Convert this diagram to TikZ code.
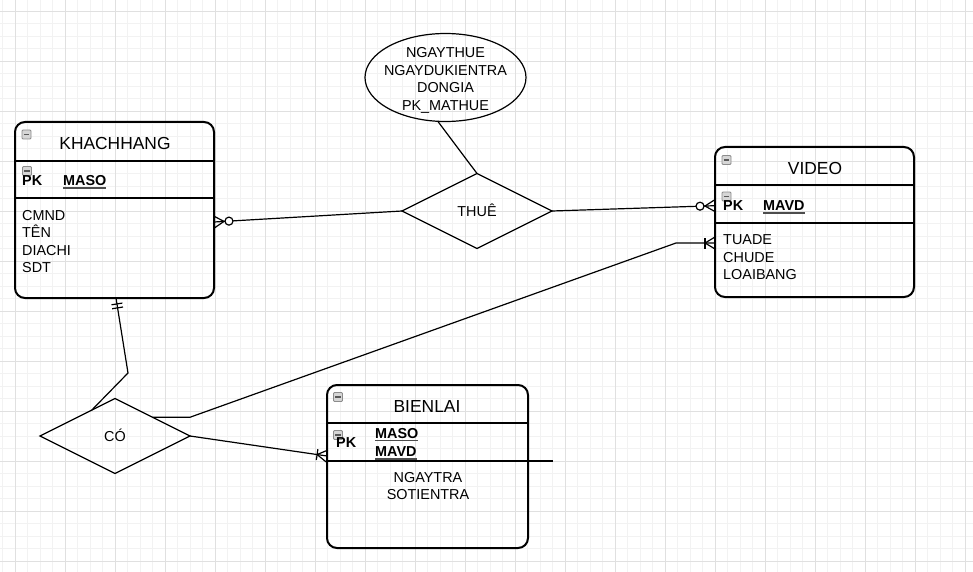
\documentclass[tikz,border=0pt]{standalone}
\usepackage{fontspec}
\setmainfont{Liberation Sans}
\usetikzlibrary{shapes.geometric,calc}
\definecolor{gridmajor}{RGB}{224,224,224}
\definecolor{gridminor}{RGB}{242,242,242}
\definecolor{iconfill}{RGB}{214,214,214}
\definecolor{iconline}{RGB}{140,140,140}
\newlength\ulw
\newcommand\keyul[1]{\settowidth\ulw{#1}\makebox[0pt][l]{\smash{\color{black!70}\rule[-2.8pt]{\ulw}{1.4pt}}}#1}
\newcommand\crowat[2]{%
  \coordinate (cw-t) at ($(#1)!10pt!(#2)$);
  \draw[conn] ($(#1)!6pt!90:(#2)$) -- (cw-t) -- ($(#1)!6pt!-90:(#2)$);}
\newcommand\barat[3]{%
  \coordinate (br-c) at ($(#1)!#3!(#2)$);
  \draw[conn] ($(br-c)!5.5pt!90:(#2)$) -- ($(br-c)!5.5pt!-90:(#2)$);}
\newcommand\ringat[2]{\draw[conn,fill=white] ($(#1)!15pt!(#2)$) circle (4pt);}
\newcommand\miniicon[1]{%
  \draw[iconline, fill=iconfill, line width=0.8pt, rounded corners=1pt] ($(#1)+(-4.5,-4.5)$) rectangle ++(9,9);
  \draw[black!65, line width=1.3pt] ($(#1)+(-2.6,0)$) -- ++(5.2,0);}
\tikzset{
  entity/.style={draw, line width=2pt, rounded corners=10pt, inner sep=0, outer sep=0},
  hdiv/.style={line width=1.8pt},
  pkdiv/.style={line width=1.2pt},
  conn/.style={line width=1.2pt, black},
  rel/.style={diamond, draw, line width=1.2pt, inner sep=0, outer sep=0, aspect=2,
    font=\fontsize{14.4}{17}\selectfont, text height=10.3pt, text depth=0pt},
  titlef/.style={font=\fontsize{17.4}{20}\selectfont, inner sep=0, text height=12.5pt, text depth=0pt},
  attr/.style={font=\fontsize{14.4}{17.5}\selectfont, inner sep=0, align=left},
  keyf/.style={font=\bfseries\fontsize{14.4}{18.4}\selectfont, inner sep=0, align=left},
}
\begin{document}
\begin{tikzpicture}[x=1pt,y=-1pt]
\useasboundingbox (0,0) rectangle (973,572);
\fill[white] (0,0) rectangle (973,572);
% grid
\foreach \i in {-1,...,76} \draw[gridminor, line width=0.8pt] ({15+12.5*\i},0) -- ({15+12.5*\i},572);
\foreach \j in {0,...,45} \draw[gridminor, line width=0.8pt] (0,{11+12.5*\j}) -- (973,{11+12.5*\j});
\foreach \i in {0,...,19} \draw[gridmajor, line width=0.9pt] ({15+50*\i},0) -- ({15+50*\i},572);
\foreach \j in {0,...,11} \draw[gridmajor, line width=0.9pt] (0,{11+50*\j}) -- (973,{11+50*\j});

% ===== KHACHHANG =====
\node[entity, minimum width=199, minimum height=176] (kh) at (114.5,210) {};
\draw[hdiv] (15,161) -- (214,161);
\draw[pkdiv] (15,198) -- (214,198);
\miniicon{26.5,134.5}
\miniicon{27,171}
\node[titlef] (kh-title) at (115,143) {KHACHHANG};
\node[keyf, anchor=west] (kh-pk) at (22,181) {PK};
\node[keyf, anchor=west] (kh-key) at (63,181) {\keyul{MASO}};
\node[attr, anchor=west] (kh-attr) at (22,241.5) {CMND\\TÊN\\DIACHI\\SDT};

% ===== VIDEO =====
\node[entity, minimum width=199, minimum height=150] (vd) at (814.5,222) {};
\draw[hdiv] (715,185) -- (914,185);
\draw[pkdiv] (715,223) -- (914,223);
\miniicon{726.5,160}
\miniicon{726.5,196.5}
\node[titlef] (vd-title) at (815,168) {VIDEO};
\node[keyf, anchor=west] (vd-pk) at (723,206) {PK};
\node[keyf, anchor=west] (vd-key) at (763,206) {\keyul{MAVD}};
\node[attr, anchor=west] (vd-attr) at (723,257.5) {TUADE\\CHUDE\\LOAIBANG};

% ===== BIENLAI =====
\node[entity, minimum width=201, minimum height=163] (bl) at (427.5,466.5) {};
\draw[hdiv] (327,423) -- (528,423);
\draw[pkdiv] (327,461) -- (553,461);
\miniicon{338,397}
\miniicon{338,435}
\node[titlef] (bl-title) at (427,406) {BIENLAI};
\node[keyf, anchor=west] (bl-pk) at (336,443) {PK};
\node[keyf, anchor=west] (bl-key) at (375,442.5) {\keyul{MASO}\\\keyul{MAVD}};
\node[attr, align=center] (bl-attr) at (428,486) {NGAYTRA\\SOTIENTRA};

% ===== relationships =====
\node[rel, minimum width=150, minimum height=75] (thue) at (477,211) {THUÊ};
\node[rel, minimum width=150, minimum height=75] (co) at (115,436) {CÓ};
\node[ellipse, draw, line width=1.2pt, minimum width=161, minimum height=88, inner sep=0, outer sep=0] (ell) at (445.5,77.5) {};
\node[attr, align=center] (ell-t) at (445.5,80.5) {NGAYTHUE\\NGAYDUKIENTRA\\DONGIA\\PK\_MATHUE};

% ===== connectors =====
\coordinate (kh-r) at ([yshift=-12pt]kh.east);
\coordinate (vd-a) at ([yshift=16.3pt]vd.west);
\coordinate (vd-b) at ([yshift=-21pt]vd.west);
\coordinate (bl-a) at ([yshift=10.5pt]bl.west);
\coordinate (kh-b) at ([xshift=1.5pt]kh.south);
\coordinate (w1) at (co.east |- co.north east);
\coordinate (w2) at (676,243);
\coordinate (w3) at (128,373);
\coordinate (co-ul) at ($(co.west)!0.69!(co.north)$);

\draw[conn] (ell.-100) -- (thue.north);
\draw[conn] (kh-r) -- (thue.west);
\draw[conn] (thue.east) -- (vd-a);
\draw[conn] (co.north east) -- (w1) -- (w2) -- (vd-b);
\draw[conn] (kh-b) -- (w3) -- (co-ul);
\draw[conn] (co.east) -- (bl-a);

% markers
\crowat{kh-r}{thue.west}
\ringat{kh-r}{thue.west}
\crowat{vd-a}{thue.east}
\ringat{vd-a}{thue.east}
\crowat{vd-b}{w2}
\barat{vd-b}{w2}{10pt}
\crowat{bl-a}{co.east}
\barat{bl-a}{co.east}{10pt}
\barat{kh-b}{w3}{6pt}
\barat{kh-b}{w3}{10pt}
\end{tikzpicture}
\end{document}
